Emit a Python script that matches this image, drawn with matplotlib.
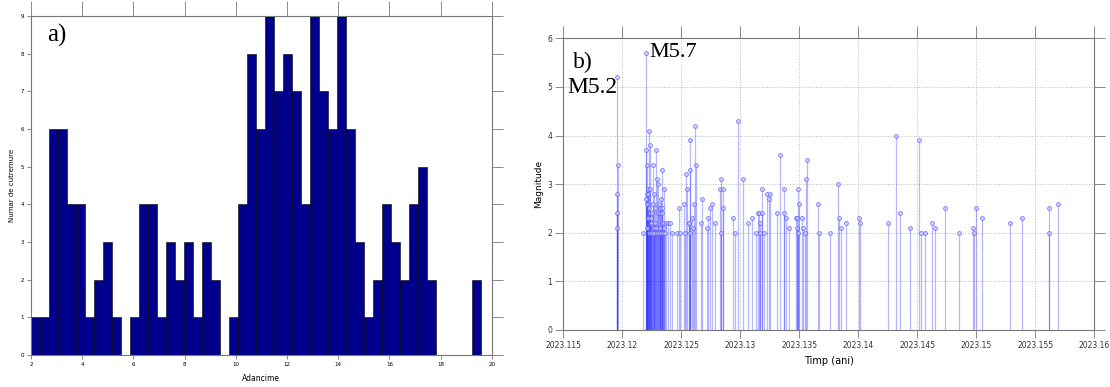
import numpy as np
import matplotlib
matplotlib.use("Agg")
import matplotlib.pyplot as plt

# a) histogram of depths (50 bins between 2 and 19.6 km)
depth_min, depth_max, n_bins = 2.0, 19.6, 50
depth_counts = [1, 1, 6, 6, 4, 4, 1, 2, 3, 1,
                0, 1, 4, 4, 1, 3, 2, 3, 1, 3,
                2, 0, 1, 4, 8, 6, 9, 7, 8, 7,
                4, 9, 7, 6, 9, 6, 3, 1, 2, 4,
                3, 2, 4, 5, 2, 0, 0, 0, 0, 2]

# b) magnitude vs time (decimal years)
event_time = [
    2023.11953, 2023.11953, 2023.11953, 2023.11953, 2023.11962, 2023.12174,
    # main shock cluster
    2023.12197, 2023.12200, 2023.12203, 2023.12205, 2023.12208, 2023.12208,
    2023.12211, 2023.12214, 2023.12217, 2023.12220, 2023.12222, 2023.12225,
    2023.12228, 2023.12231, 2023.12234, 2023.12237, 2023.12239, 2023.12242,
    2023.12245, 2023.12248, 2023.12254, 2023.12259, 2023.12262, 2023.12265,
    2023.12268, 2023.12271, 2023.12273, 2023.12276, 2023.12282, 2023.12288,
    2023.12290, 2023.12293, 2023.12299, 2023.12302, 2023.12307, 2023.12310,
    2023.12316, 2023.12319, 2023.12322, 2023.12324, 2023.12330, 2023.12333,
    2023.12336, 2023.12339, 2023.12344, 2023.12347, 2023.12350, 2023.12353,
    2023.12361, 2023.12367, 2023.12390, 2023.12401, 2023.12424,
    # aftershocks
    2023.12466, 2023.12477, 2023.12486, 2023.12520, 2023.12534, 2023.12543,
    2023.12551, 2023.12562, 2023.12568, 2023.12571, 2023.12574, 2023.12577,
    2023.12594, 2023.12599, 2023.12605, 2023.12613, 2023.12628, 2023.12670,
    2023.12676, 2023.12721, 2023.12727, 2023.12747, 2023.12761, 2023.12789,
    2023.12826, 2023.12832, 2023.12840, 2023.12849, 2023.12854, 2023.12934,
    2023.12953, 2023.12982, 2023.13021, 2023.13061, 2023.13095, 2023.13132,
    2023.13146, 2023.13160, 2023.13166, 2023.13169, 2023.13180, 2023.13183,
    2023.13203, 2023.13228, 2023.13239, 2023.13248, 2023.13313, 2023.13336,
    2023.13367, 2023.13373, 2023.13387, 2023.13409, 2023.13472, 2023.13480,
    2023.13483, 2023.13486, 2023.13492, 2023.13497, 2023.13520, 2023.13528,
    2023.13551, 2023.13560, 2023.13562, 2023.13656, 2023.13670,
    2023.13756, 2023.13827, 2023.13833, 2023.13850, 2023.13898, 2023.14006,
    2023.14011, 2023.14249, 2023.14317, 2023.14351, 2023.14436, 2023.14516,
    2023.14527, 2023.14567, 2023.14626, 2023.14652, 2023.14731, 2023.14856,
    2023.14969, 2023.14977, 2023.14997, 2023.15051, 2023.15281, 2023.15385,
    2023.15615, 2023.15615, 2023.15688,
]
event_mag = [
    5.2, 2.8, 2.4, 2.1, 3.4, 2.0,
    3.7, 2.7, 5.7, 3.4, 2.8, 2.1,
    2.6, 2.9, 2.8, 2.3, 2.0, 4.1,
    2.5, 3.8, 2.9, 2.4, 2.2, 2.0,
    2.3, 2.4, 2.0, 3.4, 2.6, 2.1,
    2.8, 2.0, 2.5, 2.2, 2.1, 3.7,
    3.1, 2.0, 3.0, 2.4, 2.6, 2.0,
    2.4, 2.1, 2.5, 2.0, 2.7, 3.3,
    2.4, 2.5, 2.2, 2.0, 2.9, 2.1,
    2.0, 2.2, 2.2, 2.2, 2.0,
    2.0, 2.5, 2.0, 2.6, 2.0, 3.2,
    2.9, 2.2, 2.2, 3.9, 3.3, 2.0,
    2.3, 2.1, 2.6, 4.2, 3.4, 2.2,
    2.7, 2.1, 2.3, 2.5, 2.6, 2.2,
    2.9, 2.0, 3.1, 2.5, 2.9, 2.3,
    2.0, 4.3, 3.1, 2.2, 2.3, 2.0,
    2.4, 2.4, 2.2, 2.0, 2.9, 2.4,
    2.0, 2.8, 2.7, 2.8, 2.4, 3.6,
    2.4, 2.9, 2.3, 2.1, 2.3, 2.3,
    2.1, 2.0, 2.9, 2.6, 2.3, 2.1,
    2.0, 3.1, 3.5, 2.6, 2.0,
    2.0, 3.0, 2.3, 2.1, 2.2, 2.3,
    2.2, 2.2, 4.0, 2.4, 2.1, 3.9,
    2.0, 2.0, 2.2, 2.1, 2.5, 2.0,
    2.1, 2.0, 2.5, 2.3, 2.2, 2.3,
    2.5, 2.0, 2.6,
]

time_ticks = [2023.115, 2023.12, 2023.125, 2023.13, 2023.135,
              2023.14, 2023.145, 2023.15, 2023.155, 2023.16]
time_labels = ["2023.115", "2023.12", "2023.125", "2023.13", "2023.135",
               "2023.14", "2023.145", "2023.15", "2023.155", "2023.16"]

serif = ["Liberation Serif", "DejaVu Serif"]
spine_col = "#777777"

fig = plt.figure(figsize=(11.1, 3.87), dpi=100)

# ---------- a) histogram ----------
ax1 = fig.add_axes([0.028, 0.083, 0.415, 0.876])
edges = np.linspace(depth_min, depth_max, n_bins + 1)
centers = (edges[:-1] + edges[1:]) / 2
ax1.hist(centers, bins=edges, weights=depth_counts, color="#00008B",
         edgecolor="black", linewidth=0.4)
ax1.set_xlim(2, 20)
ax1.set_ylim(0, 9)
ax1.set_xticks(range(2, 21, 2))
ax1.set_yticks(range(0, 10))
ax1.tick_params(direction="out", length=3, width=0.6, color=spine_col,
                labelsize=4, pad=2, top=True, right=True)
for t in ax1.xaxis.get_major_ticks():
    t.tick2line.set_markersize(11)
for t in ax1.yaxis.get_major_ticks():
    t.tick2line.set_markersize(8)
for s in ax1.spines.values():
    s.set_color(spine_col)
    s.set_linewidth(0.8)
ax1.set_xlabel("Adancime", fontsize=5.5, labelpad=5)
ax1.set_ylabel("Numar de cutremure", fontsize=5, labelpad=4)
ax1.text(0.035, 0.975, "a)", transform=ax1.transAxes, family=serif,
         fontsize=18, va="top", ha="left")

# ---------- b) magnitude stems ----------
ax2 = fig.add_axes([0.5075, 0.1473, 0.4784, 0.7537])
ax2.vlines(event_time, 0, event_mag, color="blue", alpha=0.28, linewidth=0.9)
ax2.plot(event_time, event_mag, "o", markersize=2.8, markerfacecolor=(0.78, 0.78, 1.0),
         markeredgecolor=(0.35, 0.35, 1.0), markeredgewidth=0.6, alpha=0.75,
         linestyle="none")
ax2.set_xlim(2023.115, 2023.16)
ax2.set_ylim(0, 6)
ax2.set_xticks(time_ticks)
ax2.set_xticklabels(time_labels)
ax2.set_yticks(range(0, 7))
ax2.grid(True, linestyle=":", color="#bbbbbb", linewidth=0.7)
ax2.tick_params(direction="out", length=6, width=0.6, color=spine_col,
                labelsize=5.5, labelcolor="#333333", pad=2, top=True, right=True)
for t in ax2.xaxis.get_major_ticks():
    t.tick2line.set_markersize(9)
for t in ax2.yaxis.get_major_ticks():
    t.tick2line.set_markersize(8)
for s in ax2.spines.values():
    s.set_color(spine_col)
    s.set_linewidth(0.8)
ax2.set_xlabel("Timp (ani)", fontsize=7, labelpad=4)
ax2.set_ylabel("Magnitude", fontsize=6.5, labelpad=3)
ax2.text(0.018, 0.955, "b)", transform=ax2.transAxes, family=serif,
         fontsize=17, va="top", ha="left")
ax2.text(2023.12226, 5.7, "M5.7", family=serif, fontsize=16, va="center", ha="left")
ax2.text(2023.1153, 4.98, "M5.2", family=serif, fontsize=17, va="center", ha="left")

fig.savefig("out.png", dpi=100)
